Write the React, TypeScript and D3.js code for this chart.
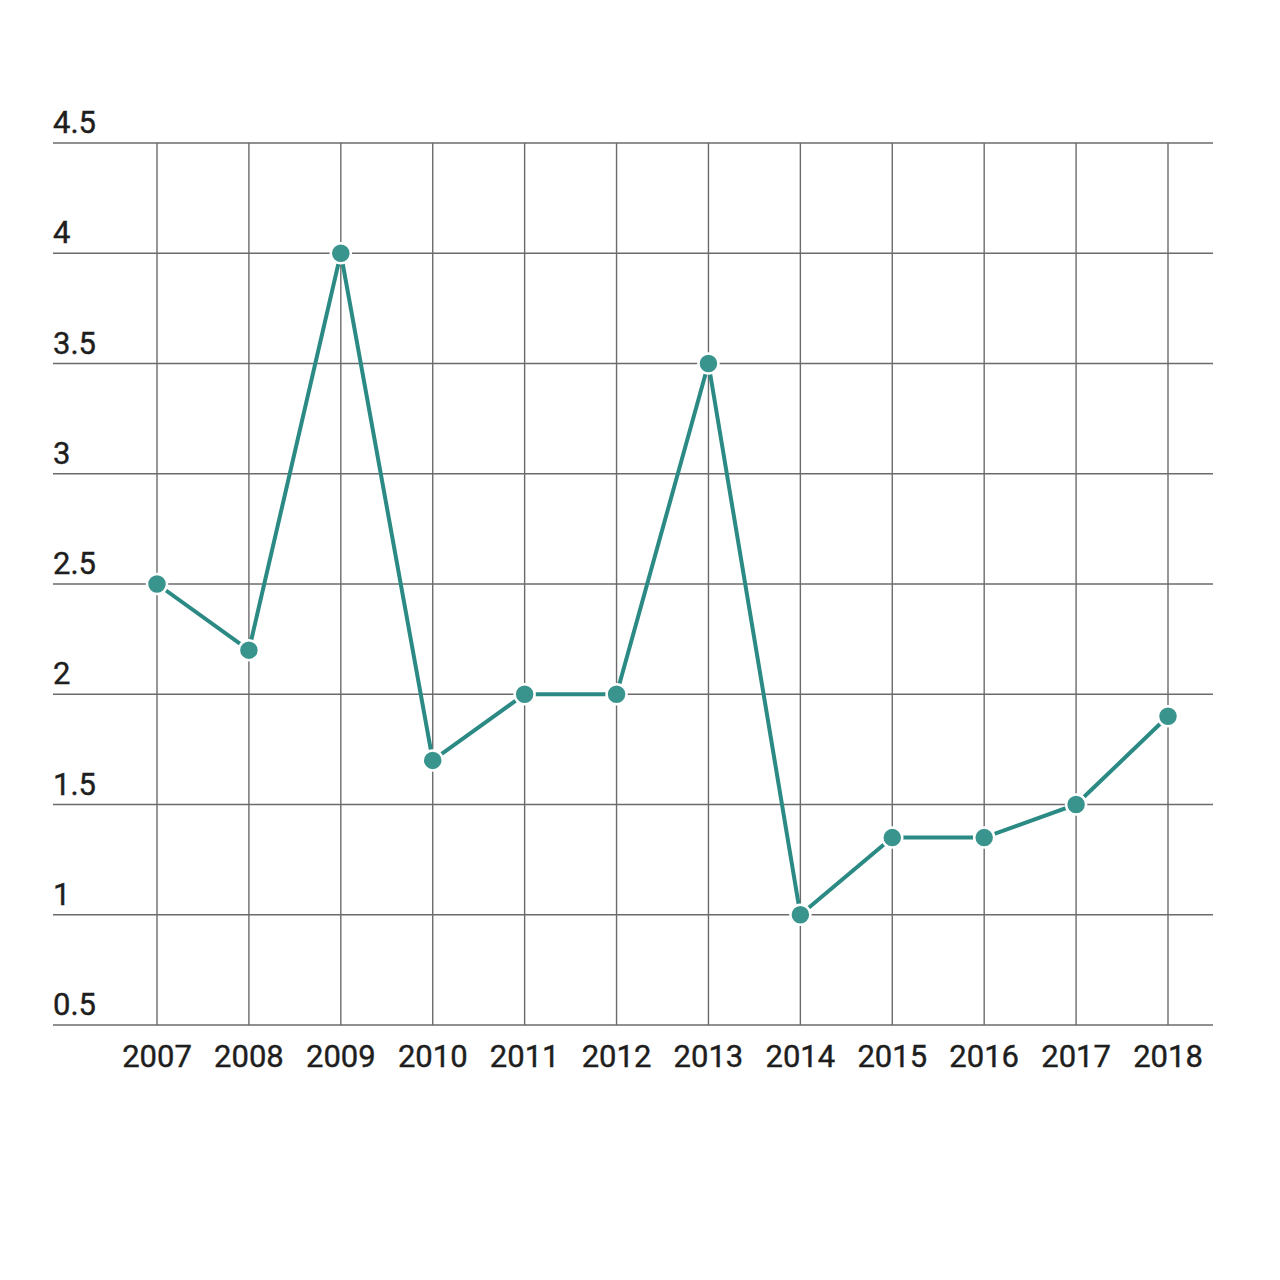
import React from 'react';
import * as d3 from 'd3';

const years = ['2007', '2008', '2009', '2010', '2011', '2012', '2013', '2014', '2015', '2016', '2017', '2018'];
const values = [2.5, 2.2, 4.0, 1.7, 2.0, 2.0, 3.5, 1.0, 1.35, 1.35, 1.5, 1.9];
const yTicks = [0.5, 1, 1.5, 2, 2.5, 3, 3.5, 4, 4.5];

const App: React.FC = () => {
  const width = 1280;
  const height = 1280;
  const left = 53;
  const right = 1213;
  const top = 143;
  const bottom = 1025;

  const x = d3.scalePoint<string>()
    .domain(years)
    .range([157, 1168]);

  const y = d3.scaleLinear()
    .domain([0.5, 4.5])
    .range([bottom, top]);

  const line = d3.line<number>()
    .x((_, i) => x(years[i]) ?? 0)
    .y(d => y(d));

  const font = 'Roboto, "Noto Sans", sans-serif';

  return (
    <svg width={width} height={height} style={{ position: 'absolute', left: 0, top: 0 }}>
      <rect width={width} height={height} fill="#ffffff" />
      {/* horizontal grid */}
      {yTicks.map(t => (
        <line key={`h${t}`} x1={left} x2={right} y1={y(t)} y2={y(t)}
          stroke="#6b6b6b" strokeWidth={1.4} />
      ))}
      {/* vertical grid */}
      {years.map(yr => (
        <line key={`v${yr}`} x1={x(yr)} x2={x(yr)} y1={top} y2={bottom}
          stroke="#6b6b6b" strokeWidth={1.4} />
      ))}
      {/* y labels */}
      {yTicks.map(t => (
        <text key={`yl${t}`} x={left} y={y(t) - 10} fontFamily={font} fontSize={31}
          fill="#1e1e1e" stroke="#1e1e1e" strokeWidth={0.4}>{String(t)}</text>
      ))}
      {/* x labels */}
      {years.map(yr => (
        <text key={`xl${yr}`} x={x(yr)} y={1067} textAnchor="middle" fontFamily={font}
          fontSize={31} fill="#1e1e1e" stroke="#1e1e1e" strokeWidth={0.4}>{yr}</text>
      ))}
      <path d={line(values) ?? ''} fill="none" stroke="#2b8a84" strokeWidth={4} />
      {values.map((v, i) => (
        <circle key={`p${i}`} cx={x(years[i])} cy={y(v)} r={10}
          fill="#3a948e" stroke="#ffffff" strokeWidth={2.5} />
      ))}
    </svg>
  );
};

export default App;
